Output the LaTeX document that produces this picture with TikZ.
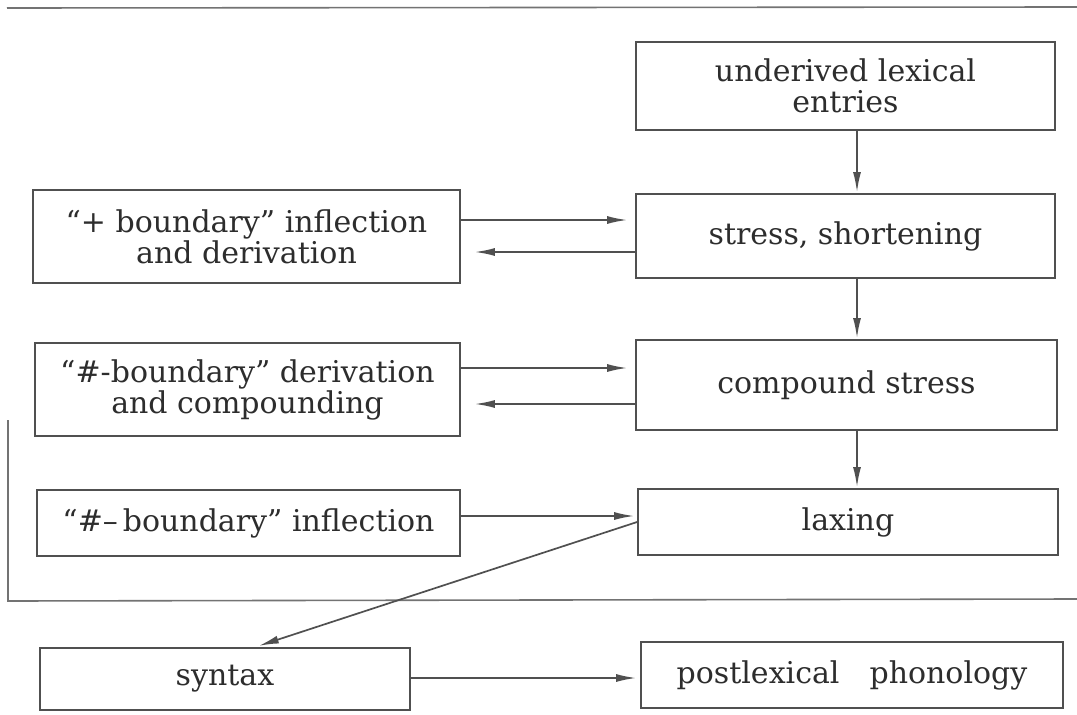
\documentclass[tikz,border=0pt]{standalone}
\usepackage{fontspec}
\setmainfont{DejaVu Serif}
\usetikzlibrary{arrows.meta}
\definecolor{lc}{RGB}{80,80,80}
\definecolor{tc}{RGB}{45,45,45}
\begin{document}
\begin{tikzpicture}[x=1pt,y=-1pt,
  box/.style={draw=lc, line width=1.8pt, rectangle, inner sep=0pt, align=center,
    text=tc, font=\fontsize{30}{31}\selectfont},
  arr/.style={draw=lc, line width=1.7pt, -{Latex[length=20pt,width=8pt]}},
  frame/.style={draw=lc!80, line width=1.6pt}]
\useasboundingbox[fill=white] (0,0) rectangle (1077,715);
% frame lines
\coordinate (tl) at (7,8);
\coordinate (tr) at (1077,7);
\coordinate (ltop) at (8,420);
\coordinate (bl) at (8,601);
\coordinate (br) at (1077,599);
\draw[frame] (tl) -- (tr);
\draw[frame] (ltop) -- (bl) -- (br);
% right column
\node[box, minimum width=419pt, minimum height=88pt] (und) at (845.5,86) {underived lexical\\entries};
\node[box, minimum width=419pt, minimum height=84pt] (str) at (845.5,236) {stress, shortening};
\node[box, minimum width=421pt, minimum height=90pt] (cmp) at (846.5,385) {compound stress};
\node[box, minimum width=420pt, minimum height=66pt] (lax) at (848,522) {laxing};
\node[box, minimum width=422pt, minimum height=66pt] (post) at (852,675) {postlexical\quad phonology};
% left column
\node[box, minimum width=427pt, minimum height=93pt] (plus) at (246.5,236.5) {``+ boundary'' inflection\\and derivation};
\node[box, minimum width=425pt, minimum height=93pt] (hashd) at (247.5,389.5) {``\#-boundary'' derivation\\and compounding};
\node[box, minimum width=423pt, minimum height=66pt] (hashi) at (248.5,523) {``\#–\,boundary'' inflection};
\node[box, minimum width=370pt, minimum height=62pt] (syn) at (225,679) {syntax};
% vertical arrows
\draw[arr, shorten >=1pt] (und.south -| 857,0) -- (str.north -| 857,0);
\draw[arr, shorten >=1pt] (str.south -| 857,0) -- (cmp.north -| 857,0);
\draw[arr, shorten >=1pt] (cmp.south -| 857,0) -- (lax.north -| 857,0);
% horizontal arrows
\draw[arr, shorten >=8pt] (plus.east |- 0,220) -- (str.west |- 0,220);
\draw[arr, shorten >=14pt] (str.west |- 0,252) -- (plus.east |- 0,252);
\draw[arr, shorten >=8pt] (hashd.east |- 0,368) -- (cmp.west |- 0,368);
\draw[arr, shorten >=14pt] (cmp.west |- 0,404) -- (hashd.east |- 0,404);
\draw[arr, shorten >=3pt] (hashi.east |- 0,516) -- (lax.west |- 0,516);
\draw[arr, shorten >=4pt] (lax.west) -- ([xshift=30pt]syn.north);
\draw[arr, shorten >=4pt] (syn.east |- 0,678) -- (post.west |- 0,678);
\end{tikzpicture}
\end{document}
